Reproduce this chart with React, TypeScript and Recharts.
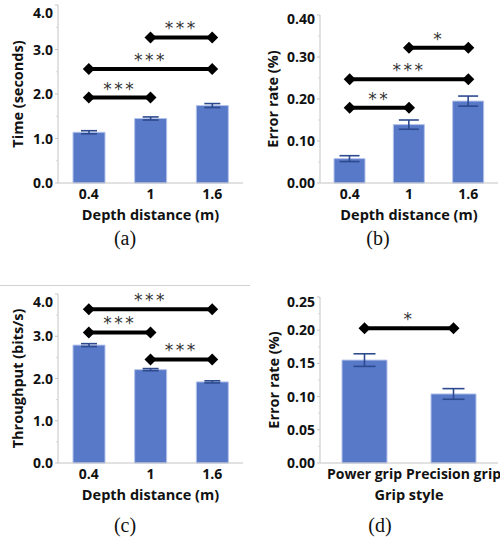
import { Bar, BarChart, ErrorBar, ReferenceDot, ReferenceLine, XAxis, YAxis } from 'recharts'

// values
const depthLabels = ['0.4', '1', '1.6']
const timeMeans = [1.14, 1.45, 1.74]
const timeErrs = [0.035, 0.035, 0.045]
const errorMeans = [0.058, 0.139, 0.195]
const errorErrs = [0.007, 0.011, 0.012]
const throughputMeans = [2.79, 2.21, 1.92]
const throughputErrs = [0.035, 0.025, 0.025]
const gripLabels = ['Power grip', 'Precision grip']
const gripErrorMeans = [0.155, 0.104]
const gripErrorErrs = [0.0095, 0.008]

const timeTicks = [0, 0.5, 1, 1.5, 2, 2.5, 3, 3.5, 4]
const errorTicks = [0, 0.05, 0.1, 0.15, 0.2, 0.25, 0.3, 0.35, 0.4]
const throughputTicks = [0, 0.5, 1, 1.5, 2, 2.5, 3, 3.5, 4]
const gripTicks = [0, 0.025, 0.05, 0.075, 0.1, 0.125, 0.15, 0.175, 0.2, 0.225, 0.25]

type Bracket = { from: string; to: string; y: number; stars: string }

const timeBrackets: Bracket[] = [
  { from: '0.4', to: '1', y: 1.92, stars: '***' },
  { from: '0.4', to: '1.6', y: 2.56, stars: '***' },
  { from: '1', to: '1.6', y: 3.27, stars: '***' },
]
const errorBrackets: Bracket[] = [
  { from: '0.4', to: '1', y: 0.179, stars: '**' },
  { from: '0.4', to: '1.6', y: 0.247, stars: '***' },
  { from: '1', to: '1.6', y: 0.322, stars: '*' },
]
const throughputBrackets: Bracket[] = [
  { from: '0.4', to: '1.6', y: 3.64, stars: '***' },
  { from: '0.4', to: '1', y: 3.09, stars: '***' },
  { from: '1', to: '1.6', y: 2.45, stars: '***' },
]
const gripBrackets: Bracket[] = [{ from: 'Power grip', to: 'Precision grip', y: 0.203, stars: '*' }]

const FONT = '"Open Sans", "Noto Sans", sans-serif'
const BAR_FILL = '#5878c8'
const BAR_EDGE = '#b4c3ea'
const ERR = '#2d4a8f'
const AXIS = '#c4c4c4'

const rows = (names: string[], means: number[], errs: number[]) =>
  names.map((name, i) => ({ name, mean: means[i], err: errs[i] }))

function YTick(props: any) {
  const { x, y, payload, step, digits, topValue, topShift } = props
  const v = payload.value as number
  const major = Math.abs(v / step - Math.round(v / step)) < 1e-6
  if (!major) return <line x1={x - 2} x2={x} y1={y} y2={y} stroke="#d6d6d6" />
  const ly = v === topValue ? y + topShift : y
  return (
    <g>
      <line x1={x - 3} x2={x} y1={y} y2={y} stroke={AXIS} />
      <text x={x - 5} y={ly} dy="0.36em" textAnchor="end" fontFamily={FONT} fontWeight={700} fontSize={14} fill="#111">
        {v.toFixed(digits)}
      </text>
    </g>
  )
}

function YTitle({ viewBox, text, gap }: any) {
  const cx = viewBox.x + viewBox.width - gap
  const cy = viewBox.y + viewBox.height / 2
  return (
    <text x={cx} y={cy} transform={`rotate(-90, ${cx}, ${cy})`} textAnchor="middle" dominantBaseline="central"
      fontFamily={FONT} fontWeight={700} fontSize={14.5} fill="#111">
      {text}
    </text>
  )
}

function XTitle({ viewBox, text }: any) {
  return (
    <text x={viewBox.x + viewBox.width / 2} y={viewBox.y + 37} textAnchor="middle"
      fontFamily={FONT} fontWeight={700} fontSize={14.5} fill="#111">
      {text}
    </text>
  )
}

function Stars({ viewBox, text }: any) {
  const cx = viewBox.x1 != null ? (viewBox.x1 + viewBox.x2) / 2 : viewBox.x + viewBox.width / 2
  const top = viewBox.y1 != null ? Math.min(viewBox.y1, viewBox.y2) : viewBox.y
  return (
    <text x={cx} y={top - 3} textAnchor="middle" fontFamily="DejaVu Sans" fontSize={17} letterSpacing={2.5} fill="#333">
      {text}
    </text>
  )
}

function Diamond({ cx, cy }: any) {
  return <polygon points={`${cx - 6},${cy} ${cx},${cy - 6} ${cx + 6},${cy} ${cx},${cy + 6}`} fill="#000" />
}

interface PanelProps {
  left: number
  top: number
  height: number
  marginTop: number
  marginRight: number
  yWidth: number
  xHeight: number
  data: { name: string; mean: number; err: number }[]
  ticks: number[]
  step: number
  digits: number
  topShift: number
  yTitle: string
  yGap: number
  xTitle: string
  barSize: number
  cap: number
  brackets: Bracket[]
}

function Panel(p: PanelProps) {
  const max = p.ticks[p.ticks.length - 1]
  return (
    <div style={{ position: 'absolute', left: p.left, top: p.top }}>
      <BarChart width={250} height={p.height} data={p.data}
        margin={{ top: p.marginTop, right: p.marginRight, left: 0, bottom: 0 }}>
        <XAxis dataKey="name" interval={0} tickLine={false} tickSize={4} tickMargin={2} height={p.xHeight}
          axisLine={{ stroke: AXIS }}
          tick={{ fontFamily: FONT, fontWeight: 700, fontSize: 14, fill: '#111' }}
          label={(lp: any) => <XTitle {...lp} text={p.xTitle} />} />
        <XAxis xAxisId="frame" dataKey="name" orientation="top" height={0} tick={false} tickLine={false}
          axisLine={{ stroke: AXIS }} />
        <YAxis type="number" domain={[0, max]} ticks={p.ticks} interval={0} width={p.yWidth}
          tickSize={0} tickMargin={0} tickLine={false} axisLine={{ stroke: AXIS }}
          tick={(tp: any) => <YTick {...tp} step={p.step} digits={p.digits} topValue={max} topShift={p.topShift} />}
          label={(lp: any) => <YTitle {...lp} text={p.yTitle} gap={p.yGap} />} />
        <YAxis yAxisId="frame" orientation="right" width={0} tick={false} tickLine={false}
          axisLine={{ stroke: AXIS }} />
        <Bar dataKey="mean" fill={BAR_FILL} stroke={BAR_EDGE} strokeWidth={1} barSize={p.barSize}
          isAnimationActive={false}>
          <ErrorBar dataKey="err" width={p.cap} stroke={ERR} strokeWidth={1.6} isAnimationActive={false} />
        </Bar>
        {p.brackets.map((b, i) => (
          <ReferenceLine key={`l${i}`} segment={[{ x: b.from, y: b.y }, { x: b.to, y: b.y }]}
            stroke="#000" strokeWidth={4} ifOverflow="visible"
            label={(lp: any) => <Stars {...lp} text={b.stars} />} />
        ))}
        {p.brackets.flatMap((b, i) =>
          [b.from, b.to].map((c, j) => (
            <ReferenceDot key={`d${i}${j}`} x={c} y={b.y} r={6} ifOverflow="visible"
              shape={(sp: any) => <Diamond {...sp} />} />
          )),
        )}
      </BarChart>
    </div>
  )
}

function Caption({ x, y, text }: { x: number; y: number; text: string }) {
  return (
    <div style={{
      position: 'absolute', left: x - 50, top: y - 11, width: 100, textAlign: 'center',
      fontFamily: '"Liberation Serif", serif', fontSize: 20, lineHeight: '22px', color: '#111',
    }}>
      {text}
    </div>
  )
}

export default function App() {
  return (
    <div style={{ position: 'absolute', left: 0, top: 0, width: 500, height: 539, background: '#fff', overflow: 'hidden' }}>
      <Panel left={0} top={0} height={250} marginTop={5} marginRight={7} yWidth={58} xHeight={67}
        data={rows(depthLabels, timeMeans, timeErrs)} ticks={timeTicks} step={1} digits={1} topShift={8}
        yTitle="Time (seconds)" yGap={41} xTitle="Depth distance (m)" barSize={32} cap={8} brackets={timeBrackets} />
      <Panel left={250} top={0} height={250} marginTop={15} marginRight={2} yWidth={70} xHeight={67}
        data={rows(depthLabels, errorMeans, errorErrs)} ticks={errorTicks} step={0.1} digits={2} topShift={4}
        yTitle="Error rate (%)" yGap={48} xTitle="Depth distance (m)" barSize={31} cap={10} brackets={errorBrackets} />
      <div style={{ position: 'absolute', left: 0, top: 285, width: 250, height: 1, background: '#d2d2d2' }} />
      <Panel left={0} top={270} height={269} marginTop={24} marginRight={7} yWidth={58} xHeight={76}
        data={rows(depthLabels, throughputMeans, throughputErrs)} ticks={throughputTicks} step={1} digits={1} topShift={8}
        yTitle="Throughput (bits/s)" yGap={41} xTitle="Depth distance (m)" barSize={32} cap={8} brackets={throughputBrackets} />
      <Panel left={250} top={270} height={269} marginTop={27} marginRight={2} yWidth={70} xHeight={76}
        data={rows(gripLabels, gripErrorMeans, gripErrorErrs)} ticks={gripTicks} step={0.05} digits={2} topShift={5}
        yTitle="Error rate (%)" yGap={47} xTitle="Grip style" barSize={45} cap={11} brackets={gripBrackets} />
      <Caption x={125} y={238} text="(a)" />
      <Caption x={378} y={238} text="(b)" />
      <Caption x={125} y={525} text="(c)" />
      <Caption x={380} y={525} text="(d)" />
    </div>
  )
}
